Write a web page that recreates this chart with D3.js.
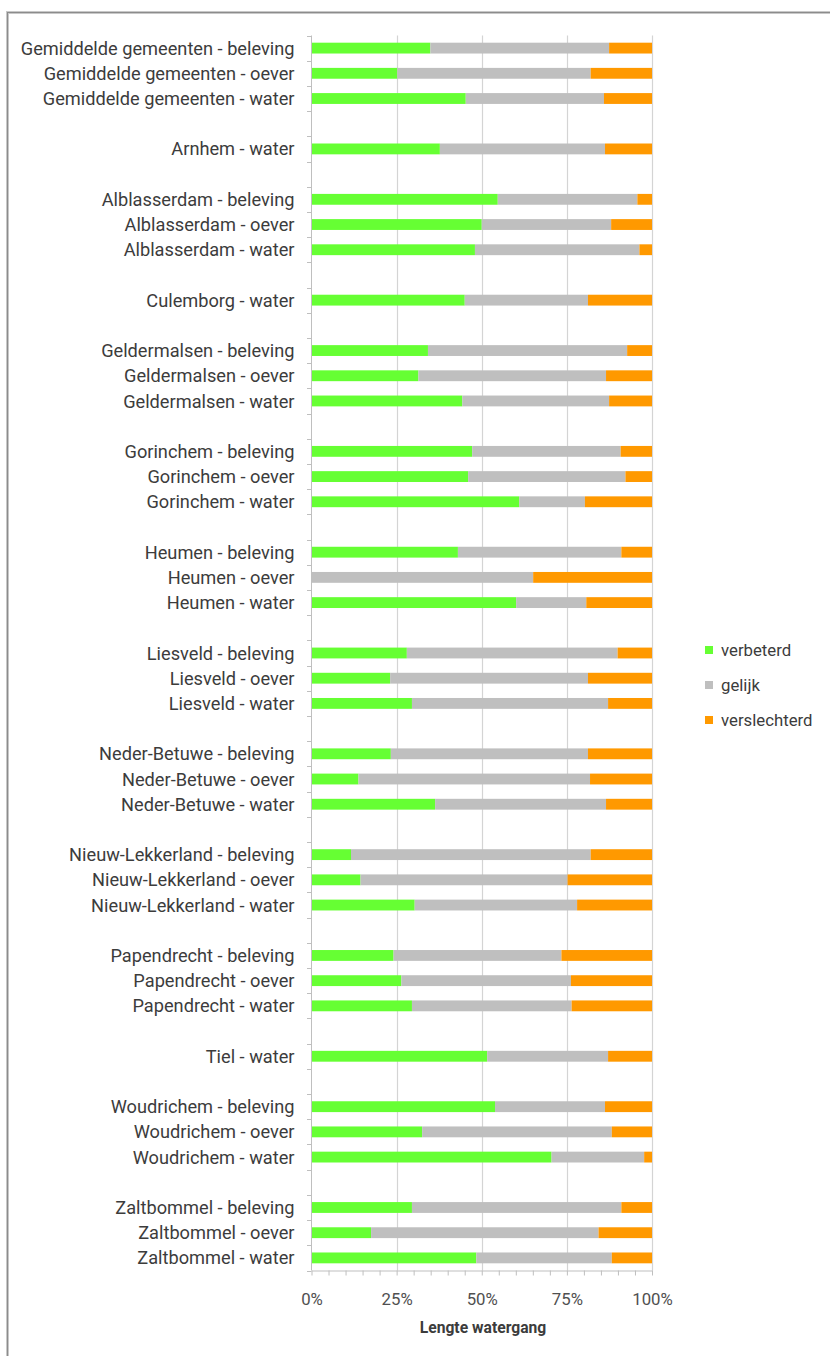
<!DOCTYPE html>
<html>
<head>
<meta charset="utf-8">
<script src="https://cdn.jsdelivr.net/npm/d3@7"></script>
<style>
  html, body { margin: 0; padding: 0; background: #fff; }
  svg { display: block; }
</style>
</head>
<body>
<svg id="chart" width="830" height="1356"></svg>
<script>
const categories = [
  "Gemiddelde gemeenten - beleving","Gemiddelde gemeenten - oever","Gemiddelde gemeenten - water","",
  "Arnhem - water","",
  "Alblasserdam - beleving","Alblasserdam - oever","Alblasserdam - water","",
  "Culemborg - water","",
  "Geldermalsen - beleving","Geldermalsen - oever","Geldermalsen - water","",
  "Gorinchem - beleving","Gorinchem - oever","Gorinchem - water","",
  "Heumen - beleving","Heumen - oever","Heumen - water","",
  "Liesveld - beleving","Liesveld - oever","Liesveld - water","",
  "Neder-Betuwe - beleving","Neder-Betuwe - oever","Neder-Betuwe - water","",
  "Nieuw-Lekkerland - beleving","Nieuw-Lekkerland - oever","Nieuw-Lekkerland - water","",
  "Papendrecht - beleving","Papendrecht - oever","Papendrecht - water","",
  "Tiel - water","",
  "Woudrichem - beleving","Woudrichem - oever","Woudrichem - water","",
  "Zaltbommel - beleving","Zaltbommel - oever","Zaltbommel - water"
];
const verbeterd = [
  34.9,25.2,45.3,null, 37.7,null, 54.7,50.0,48.0,null, 45.0,null,
  34.2,31.4,44.3,null, 47.2,46.0,61.0,null, 43.0,0,60.1,null,
  28.0,23.1,29.5,null, 23.3,13.8,36.3,null, 11.6,14.4,30.3,null,
  24.1,26.4,29.5,null, 51.6,null, 53.9,32.5,70.5,null, 29.5,17.5,48.4
];
const gelijk = [
  52.5,56.8,40.6,null, 48.5,null, 41.0,38.0,48.3,null, 36.2,null,
  58.5,55.1,43.1,null, 43.6,46.2,19.3,null, 48.0,65.1,20.6,null,
  61.9,58.1,57.6,null, 57.9,68.0,50.2,null, 70.4,60.8,47.7,null,
  49.3,49.8,46.9,null, 35.5,null, 32.3,55.7,27.2,null, 61.5,66.8,39.8
];
const verslechterd = [
  12.6,18.0,14.1,null, 13.8,null, 4.3,12.0,3.7,null, 18.8,null,
  7.3,13.5,12.6,null, 9.2,7.8,19.7,null, 9.0,34.9,19.3,null,
  10.1,18.8,12.9,null, 18.8,18.2,13.5,null, 18.0,24.8,22.0,null,
  26.6,23.8,23.6,null, 12.9,null, 13.8,11.8,2.3,null, 9.0,15.7,11.8
];
const seriesNames = ["verbeterd","gelijk","verslechterd"];
const seriesColors = ["#66ff33","#bfbfbf","#ff9900"];
const xTicks = [0,5,10,15,20,25,30,35,40,45,50,55,60,65,70,75,80,85,90,95,100];
const xLabelTicks = [0,25,50,75,100];
const xTitle = "Lengte watergang";

const svg = d3.select("#chart");
const FONT = "Roboto, 'Liberation Sans', Arial, sans-serif";
const textColor = "#3c3c3c";

// frame
svg.append("rect").attr("x",7.5).attr("y",12.5).attr("width",900).attr("height",1400)
  .attr("fill","none").attr("stroke","#c8c8c8").attr("stroke-width",3);
svg.append("rect").attr("x",7.5).attr("y",12.5).attr("width",900).attr("height",1400)
  .attr("fill","none").attr("stroke","#8c8c8c").attr("stroke-width",1);

const x = d3.scaleLinear().domain([0,100]).range([311.5, 652]);
const y = d3.scaleBand().domain(d3.range(categories.length))
  .range([35.5, 1270.5]).paddingInner(0.57).paddingOuter(0.285);
const step = y.step();

// gridlines
svg.append("g").selectAll("line").data(xLabelTicks.filter(d => d > 0)).join("line")
  .attr("x1", d => Math.round(x(d)) + 0.5).attr("x2", d => Math.round(x(d)) + 0.5)
  .attr("y1", 35.5).attr("y2", 1270.5)
  .attr("stroke", "#d4d4d4").attr("stroke-width", 1.2);

// stacked data
const rows = categories.map((c, i) => ({
  i, label: c, verbeterd: verbeterd[i] || 0, gelijk: gelijk[i] || 0, verslechterd: verslechterd[i] || 0,
  blank: c === ""
}));
const stacked = d3.stack().keys(seriesNames)(rows);

svg.append("g").selectAll("g").data(stacked).join("g")
  .attr("fill", (d, k) => seriesColors[k])
  .selectAll("rect").data(d => d.filter(p => !p.data.blank && p[1] > p[0])).join("rect")
  .attr("x", d => x(d[0]))
  .attr("width", d => x(d[1]) - x(d[0]))
  .attr("y", d => y(d.data.i))
  .attr("height", y.bandwidth());

// left axis line + boundary ticks
const yAxisG = svg.append("g");
yAxisG.append("line").attr("x1", 311.5).attr("x2", 311.5).attr("y1", 35.5).attr("y2", 1270.5)
  .attr("stroke", "#bfbfbf");
yAxisG.selectAll("line.tk").data(d3.range(categories.length + 1)).join("line").attr("class","tk")
  .attr("x1", 307).attr("x2", 311.5)
  .attr("y1", k => Math.round(35.5 + k * step) + 0.5).attr("y2", k => Math.round(35.5 + k * step) + 0.5)
  .attr("stroke", "#bfbfbf");

// category labels
const labels = svg.append("g").selectAll("text").data(rows.filter(r => !r.blank)).join("text")
  .attr("x", 294.5)
  .attr("y", r => y(r.i) + y.bandwidth() / 2)
  .attr("dy", "0.36em")
  .attr("text-anchor", "end")
  .attr("font-family", FONT)
  .attr("font-size", 16)
  .attr("fill", textColor)
  .text(r => r.label);

// fit font size so the longest label is ~274px wide
let maxW = 0;
labels.each(function() { maxW = Math.max(maxW, this.getComputedTextLength()); });
const fs = 16 * 274 / maxW;
labels.attr("font-size", fs.toFixed(2));

// bottom axis
const xAxis = d3.axisBottom(x).tickValues(xTicks).tickSize(5).tickSizeOuter(0)
  .tickFormat(d => xLabelTicks.includes(d) ? d + "%" : "");
const xg = svg.append("g").attr("transform", "translate(0,1270.5)").call(xAxis);
xg.select(".domain").attr("stroke", "#bfbfbf");
xg.selectAll(".tick line").attr("stroke", "#bfbfbf");
xg.selectAll(".tick text").attr("y", 28).attr("dy", "0.36em")
  .attr("font-family", FONT).attr("font-size", (fs * 0.92).toFixed(2)).attr("fill", "#505050");

// axis title
svg.append("text").attr("x", 483).attr("y", 1327).attr("dy", "0.36em")
  .attr("text-anchor", "middle").attr("font-family", FONT).attr("font-weight", "bold")
  .attr("font-size", (fs * 0.86).toFixed(2)).attr("fill", textColor).text(xTitle);

// legend
const legendY = [650, 685, 720];
const lg = svg.append("g").selectAll("g").data(seriesNames).join("g")
  .attr("transform", (d, k) => `translate(705,${legendY[k]})`);
lg.append("rect").attr("x", 0).attr("y", -4).attr("width", 8).attr("height", 8)
  .attr("fill", (d, k) => seriesColors[k]);
lg.append("text").attr("x", 16).attr("y", 0).attr("dy", "0.36em")
  .attr("font-family", FONT).attr("font-size", (fs * 0.92).toFixed(2)).attr("fill", textColor)
  .text(d => d);
</script>
</body>
</html>
